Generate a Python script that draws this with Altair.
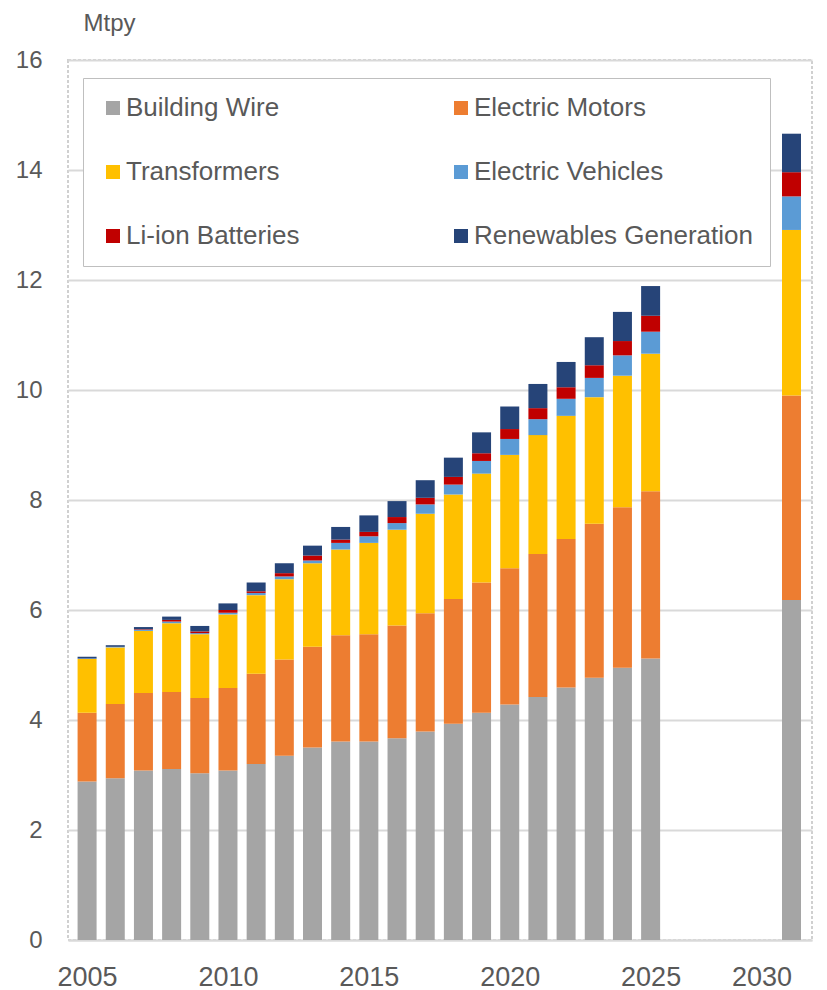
import altair as alt
import pandas as pd

years = [2005, 2006, 2007, 2008, 2009, 2010, 2011, 2012, 2013, 2014, 2015,
         2016, 2017, 2018, 2019, 2020, 2021, 2022, 2023, 2024, 2025, 2030]

building_wire = [2.88, 2.94, 3.08, 3.11, 3.03, 3.08, 3.20, 3.35, 3.50, 3.61, 3.61,
                 3.67, 3.79, 3.93, 4.13, 4.28, 4.42, 4.59, 4.77, 4.95, 5.12, 6.18]
electric_motors = [1.25, 1.35, 1.41, 1.40, 1.37, 1.50, 1.64, 1.75, 1.83, 1.93, 1.95,
                   2.05, 2.15, 2.27, 2.37, 2.48, 2.60, 2.70, 2.80, 2.92, 3.04, 3.72]
transformers = [0.98, 1.03, 1.13, 1.25, 1.16, 1.34, 1.43, 1.46, 1.52, 1.56, 1.66,
                1.74, 1.81, 1.90, 1.98, 2.06, 2.16, 2.24, 2.30, 2.39, 2.50, 3.01]
electric_vehicles = [0.01, 0.01, 0.02, 0.03, 0.02, 0.03, 0.04, 0.05, 0.05, 0.12, 0.12,
                     0.12, 0.17, 0.18, 0.23, 0.29, 0.29, 0.31, 0.35, 0.37, 0.40, 0.61]
li_ion_batteries = [0.00, 0.00, 0.01, 0.03, 0.03, 0.05, 0.03, 0.06, 0.09, 0.06, 0.08,
                    0.11, 0.12, 0.14, 0.14, 0.18, 0.20, 0.21, 0.23, 0.26, 0.29, 0.44]
renewables_generation = [0.03, 0.03, 0.04, 0.06, 0.10, 0.12, 0.16, 0.18, 0.18, 0.23, 0.30,
                         0.29, 0.32, 0.35, 0.38, 0.41, 0.44, 0.46, 0.51, 0.53, 0.54, 0.70]

series_names = ["Building Wire", "Electric Motors", "Transformers",
                "Electric Vehicles", "Li-ion Batteries", "Renewables Generation"]
series_colors = ["#a5a5a5", "#ed7d31", "#ffc000", "#5b9bd5", "#c00000", "#264478"]
x_tick_years = [2005, 2010, 2015, 2020, 2025, 2030]
y_ticks = [0, 2, 4, 6, 8, 10, 12, 14, 16]

series_values = [building_wire, electric_motors, transformers,
                 electric_vehicles, li_ion_batteries, renewables_generation]

rows = []
for k, (name, vals) in enumerate(zip(series_names, series_values)):
    for yr, v in zip(years, vals):
        rows.append({"year": yr, "series": name, "value": v, "order": k})
df = pd.DataFrame(rows)

# legend is filled column by column: arrange so rows read left-to-right
legend_idx = [0, 2, 4, 1, 3, 5]
legend_domain = [series_names[i] for i in legend_idx]
legend_range = [series_colors[i] for i in legend_idx]

text_color = "#595959"

chart = alt.Chart(df).mark_bar(size=19).encode(
    x=alt.X("year:Q",
            scale=alt.Scale(domain=[2004.5, 2030.55], nice=False, zero=False),
            axis=alt.Axis(values=x_tick_years, format="d", title=None, ticks=False,
                          grid=False, labelFontSize=27, labelPadding=24,
                          labelAlign=alt.ExprRef("datum.value == 2030 ? 'right' : 'center'"),
                          labelColor=text_color, domainColor="#d9d9d9", domainWidth=2,
                          labelFlush=False, labelOverlap=False)),
    y=alt.Y("value:Q", stack="zero",
            scale=alt.Scale(domain=[0, 16], nice=False),
            axis=alt.Axis(values=y_ticks, title="Mtpy", titleAngle=0, titleAlign="left",
                          titleBaseline="alphabetic", titleX=15, titleY=-30,
                          titleFontSize=24, titleFontWeight="normal", titleColor=text_color,
                          labelFontSize=24, labelPadding=26, labelColor=text_color,
                          ticks=False, domain=False, gridColor="#d9d9d9", gridWidth=2)),
    color=alt.Color("series:N",
                    scale=alt.Scale(domain=legend_domain, range=legend_range),
                    legend=alt.Legend(title=None, orient="none", legendX=15, legendY=18,
                                      columns=2, symbolType="square", symbolSize=196,
                                      symbolStrokeWidth=0,
                                      labelFontSize=26,
                                      labelColor=text_color, labelOffset=0,
                                      labelLimit=400, rowPadding=38, columnPadding=148,
                                      padding=17, fillColor="white",
                                      strokeColor="#bfbfbf")),
    order=alt.Order("order:Q", sort="ascending"),
).properties(
    width=744, height=880,
    autosize=alt.AutoSizeParams(type="none"),
    padding={"left": 60, "top": 52, "right": 7, "bottom": 50},
).configure(
    font="Liberation Sans",
).configure_view(
    stroke="#d0d0d0", strokeWidth=2, strokeDash=[3, 2],
)

chart.save("out.html", embed_options={"renderer": "svg", "actions": False})
